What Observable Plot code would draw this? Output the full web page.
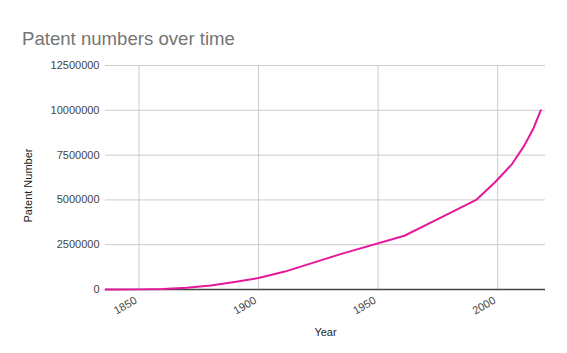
<!DOCTYPE html>
<html>
<head>
<meta charset="utf-8">
<script src="https://cdn.jsdelivr.net/npm/d3@7"></script>
<script src="https://cdn.jsdelivr.net/npm/@observablehq/plot@0.6"></script>
<style>
  body { margin: 0; background: #fff; font-family: "Liberation Sans", Arial, Helvetica, sans-serif; }
  #wrap { width: 567px; height: 353px; position: relative; overflow: hidden; }
  #title { height: 55px; position: relative; }
  #title span { position: absolute; left: 22px; top: 28px; font-size: 18.6px; color: #757575; white-space: nowrap; }
  svg { display: block; }
</style>
</head>
<body>
<div id="wrap">
  <div id="title"><span>Patent numbers over time</span></div>
  <div id="chart"></div>
</div>
<script>
const years = [1836, 1840, 1850, 1860, 1870, 1880, 1890, 1900, 1911, 1935, 1961, 1976, 1991, 1999, 2006, 2011, 2015, 2018];
const patentNumbers = [1, 1465, 6981, 26642, 98460, 223211, 418665, 640167, 1000000, 2000000, 3000000, 4000000, 5000000, 6000000, 7000000, 8000000, 9000000, 10000000];
const xTicks = [1850, 1900, 1950, 2000];
const yTicks = [0, 2500000, 5000000, 7500000, 10000000, 12500000];

const data = years.map((y, i) => ({year: y, patents: patentNumbers[i]}));
const font = '"Liberation Sans", Arial, Helvetica, sans-serif';

const chart = Plot.plot({
  width: 567,
  height: 298,
  marginTop: 10,
  marginBottom: 64,
  marginLeft: 105,
  marginRight: 22,
  style: {fontFamily: font, fontSize: "11px", color: "#444", background: "#fff"},
  x: {domain: [1836, 2020], ticks: xTicks, tickFormat: d3.format("d")},
  y: {domain: [0, 12500000], ticks: yTicks, tickFormat: d3.format("d")},
  marks: [
    Plot.ruleX(xTicks, {stroke: "#cccccc", strokeWidth: 1}),
    Plot.ruleY(yTicks.filter(d => d > 0), {stroke: "#cccccc", strokeWidth: 1}),
    Plot.ruleY([0], {stroke: "#444444", strokeWidth: 1.5}),
    Plot.axisY({ticks: yTicks, tickSize: 0, tickPadding: 6, label: null, tickFormat: d3.format("d"), fill: "#444"}),
    Plot.axisX({ticks: xTicks, tickSize: 0, tickPadding: 10, tickRotate: -30, dx: -3, label: null, tickFormat: d3.format("d"), fill: "#444"}),
    Plot.line(data, {x: "year", y: "patents", stroke: "#e5179b", strokeWidth: 2}),
    Plot.text(["Patent Number"], {frameAnchor: "left", textAnchor: "middle", dx: -77, dy: 8, rotate: -90, fill: "#222", fontSize: 11}),
    Plot.text(["Year"], {frameAnchor: "bottom", dy: 46, fill: "#222", fontSize: 11})
  ]
});
document.getElementById("chart").appendChild(chart);
</script>
</body>
</html>
